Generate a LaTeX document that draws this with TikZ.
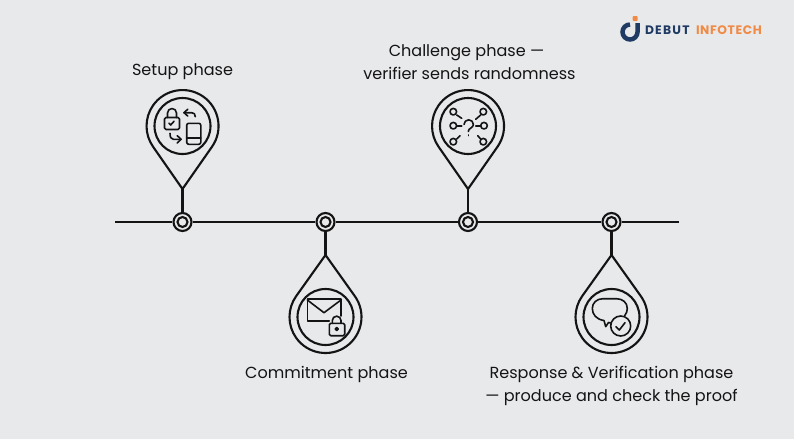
\documentclass[tikz,border=0pt]{standalone}
\usepackage{xcolor}
\usepackage{fontspec}
\setmainfont{Poppins}
\definecolor{pagegrey}{HTML}{E8E9EB}
\definecolor{inkblack}{HTML}{141414}
\definecolor{logonavy}{HTML}{1F3B63}
\definecolor{logoorange}{HTML}{F08A45}
\tikzset{
	pinline/.style={draw=inkblack,line width=2.1pt,line join=round},
	iconline/.style={draw=inkblack,line width=1.6pt,line cap=round,line join=round},
	hubdot/.style={circle,draw=inkblack,line width=2.1pt,fill=pagegrey,minimum size=18pt,inner sep=0pt},
	phaselabel/.style={font=\fontsize{16.05}{23}\selectfont,text=inkblack,align=center,inner sep=0pt},
	logolabel/.style={font=\bfseries\fontsize{12.3}{13}\selectfont,anchor=west,inner sep=0pt},
}
% pin with the tip under the head: #1 = x, #2 = y of head centre
\newcommand{\pinup}[2]{
	\draw[pinline] (#1,#2+63) -- (#1+29.6,#2+20.6) arc (34.8:-214.8:36) -- cycle;
	\draw[pinline] (#1,#2) circle (28);
}
% pin with the tip above the head
\newcommand{\pindown}[2]{
	\draw[pinline] (#1,#2-62) -- (#1+29.3,#2-20.9) arc (-35.5:215.5:36) -- cycle;
	\draw[pinline] (#1,#2) circle (28);
}
\begin{document}
\begin{tikzpicture}[x=1pt,y=-1pt]
	\fill[pagegrey] (0,0) rectangle (794,439);
	\useasboundingbox (0,0) rectangle (794,439);

	% timeline
	\coordinate (start) at (115,222);
	\coordinate (end) at (679,222);
	\node[hubdot] (setup) at (182.5,222) {};
	\node[hubdot] (commit) at (325.5,222) {};
	\node[hubdot] (challenge) at (468,222) {};
	\node[hubdot] (response) at (611.5,222) {};
	\draw[pinline] (start) -- (setup) -- (commit) -- (challenge) -- (response) -- (end);
	\foreach \dotname in {setup,commit,challenge,response}
		\node[circle,draw=inkblack,line width=2.1pt,minimum size=10pt,inner sep=0pt] at (\dotname) {};

	% pins
	\pinup{182.5}{126}
	\pinup{468}{126}
	\pindown{325.5}{317}
	\pindown{611.5}{317}
	\coordinate (setuptip) at (182.5,189);
	\coordinate (challengetip) at (468,189);
	\coordinate (committip) at (325.5,255);
	\coordinate (responsetip) at (611.5,255);
	\draw[pinline] (setuptip) -- (setup);
	\draw[pinline] (challengetip) -- (challenge);
	\draw[pinline] (committip) -- (commit);
	\draw[pinline] (responsetip) -- (response);

	% setup icon
	\draw[iconline,rounded corners=1.5pt] (164.5,117.5) rectangle (179.5,129.5);
	\draw[iconline] (167.5,117.5) -- (167.5,113) arc (180:360:4.5) -- (176.5,117.5);
	\draw[iconline] (169,123.3) -- (170.7,125) -- (174,121.3);
	\draw[iconline] (195.3,116.7) .. controls (195.3,114) and (194,112.7) .. (191.7,112.7) -- (184,112.7);
	\draw[iconline] (187.7,109.3) -- (184,112.7) -- (187.7,116);
	\draw[iconline] (170,133.3) .. controls (170,137) and (171,139.3) .. (173.3,139.3) -- (181,139.3);
	\draw[iconline] (177.3,135.7) -- (181,139.3) -- (177.3,143);
	\draw[iconline,rounded corners=2pt] (186.7,123.3) rectangle (200.8,144.3);
	\draw[iconline] (186.7,137.7) -- (200.8,137.7);

	% challenge icon
	\foreach \px/\py in {453.3/111.7,483.3/111.7,453.3/125.7,484/125.7,453.3/141.7,483.3/141.7}
		\draw[iconline] (\px,\py) circle (3.3);
	\draw[iconline] (456.7,115) -- (461.7,118.3);
	\draw[iconline] (480.7,115) -- (475.7,119.3);
	\draw[iconline] (456.7,125.7) -- (461.7,125.7);
	\draw[iconline] (475.7,125.7) -- (480.7,125.7);
	\draw[iconline] (456.7,139) -- (460,135.7);
	\draw[iconline] (477.7,135.7) -- (480.7,139);
	\draw[iconline] (464,124.5) arc (180:360:4.7) .. controls (473.4,128) and (468.3,128) .. (468.3,131.5);
	\draw[iconline] (468.3,135) -- (468.3,135.6);

	% commitment icon
	\draw[iconline] (341,316) -- (341,299) -- (307.3,299) -- (307.3,320.7) -- (329.3,320.7);
	\draw[iconline] (307.3,300) -- (324,312.7) -- (341,300);
	\draw[iconline,rounded corners=1.5pt] (329.3,323.3) rectangle (344.7,335.7);
	\draw[iconline] (332.3,323.3) -- (332.3,320.5) arc (180:360:4.35) -- (341,323.3);
	\draw[iconline] (336.7,329) circle (1.5);

	% response icon
	\draw[iconline] (624.5,316) .. controls (626.5,313.5) and (627.3,311) .. (627.3,308.5)
		.. controls (627.3,302.5) and (622.5,298.7) .. (616.5,298.7) -- (603,298.7)
		.. controls (596.5,298.7) and (592.3,303) .. (592.3,308.5)
		.. controls (592.3,314.5) and (596.5,319.5) .. (604,320.5)
		-- (605.7,326.7) -- (608.5,322.5) -- (610.5,323);
	\draw[iconline] (620.7,326) circle (10);
	\draw[iconline] (616,326.7) -- (619.3,330) -- (625,322.7);

	% labels
	\node[phaselabel] (setuplabel) at (182.5,72) {Setup phase};
	\node[phaselabel] (challengelabel) at (469.5,62) {Challenge phase ---\hspace*{6pt}\\verifier sends randomness};
	\node[phaselabel] (commitlabel) at (326.5,374.5) {Commitment phase};
	\node[phaselabel] (responselabel) at (611.5,386) {Response \& Verification phase\\--- produce and check the proof};

	% logo
	\fill[logoorange,rounded corners=1pt] (632.7,16) rectangle (637.5,21);
	\draw[logonavy,line width=4.5pt] (630,24.5) arc (-90:-360:7.5) -- (637.5,23);
	\node[logolabel,text=logonavy] (logoleft) at (644.8,30.5) {\addfontfeature{LetterSpace=10}DEBUT};
	\node[logolabel,text=logoorange] (logoright) at (695.8,30.5) {\addfontfeature{LetterSpace=5}INFOTECH};
\end{tikzpicture}
\end{document}
